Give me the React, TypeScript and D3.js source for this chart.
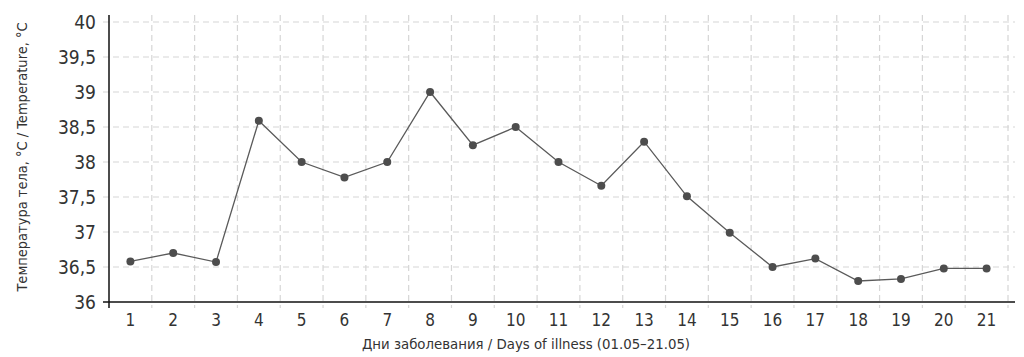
import React from "react";
import * as d3 from "d3";

const days: string[] = Array.from({ length: 21 }, (_, i) => String(i + 1));
const temps: number[] = [
  36.58, 36.7, 36.57, 38.59, 38.0, 37.78, 38.0, 39.0, 38.24, 38.5, 38.0,
  37.66, 38.29, 37.51, 36.99, 36.5, 36.62, 36.3, 36.33, 36.48, 36.48,
];
const yTicks: number[] = [36, 36.5, 37, 37.5, 38, 38.5, 39, 39.5, 40];
const yTickLabels: string[] = ["36", "36,5", "37", "37,5", "38", "38,5", "39", "39,5", "40"];
const xTitle = "Дни заболевания / Days of illness (01.05–21.05)";
const yTitle = "Температура тела, °C / Temperature, °C";

const W = 1024;
const H = 357;
const left = 109;
const right = 1008;
const top = 22;
const bottom = 302;
const FONT = "'Liberation Sans Narrow', 'DejaVu Sans Condensed', 'Roboto Condensed', sans-serif";

export default function App() {
  const x = d3.scaleBand<string>().domain(days).range([left, right]).paddingInner(0).paddingOuter(0);
  const y = d3.scaleLinear().domain([36, 40]).range([bottom, top]);
  const cx = (d: string) => (x(d) as number) + x.bandwidth() / 2;
  const line = d3
    .line<number>()
    .x((_, i) => cx(days[i]))
    .y((v) => y(v));
  const grid = "#d6d6d6";
  return (
    <svg
      width={W}
      height={H}
      style={{ position: "absolute", left: 0, top: 0, display: "block", background: "#fff" }}
      fontFamily={FONT}
    >
      {yTicks.slice(1).map((t) => (
        <line key={"h" + t} x1={left - 6} x2={1015} y1={y(t)} y2={y(t)} stroke={grid} strokeWidth={1.2} strokeDasharray="6,4" />
      ))}
      {days.map((d) => (
        <line
          key={"v" + d}
          x1={(x(d) as number) + x.bandwidth()}
          x2={(x(d) as number) + x.bandwidth()}
          y1={15}
          y2={bottom + 6}
          stroke={grid}
          strokeWidth={1.2}
          strokeDasharray="6,4"
        />
      ))}
      <line x1={left} x2={left} y1={15} y2={bottom + 6} stroke="#111" strokeWidth={1.5} />
      <line x1={left - 6} x2={1015} y1={bottom} y2={bottom} stroke="#111" strokeWidth={1.5} />
      {yTicks.map((t, i) => (
        <text key={"yl" + t} x={96} y={y(t)} dy="0.36em" textAnchor="end" fontSize={19} fill="#333">
          {yTickLabels[i]}
        </text>
      ))}
      {days.map((d) => (
        <text key={"xl" + d} x={cx(d)} y={326} textAnchor="middle" fontSize={17} fill="#333">
          {d}
        </text>
      ))}
      <text x={526} y={349} textAnchor="middle" fontSize={14.8} fill="#333">
        {xTitle}
      </text>
      <text
        transform={`translate(27, 157) rotate(-90)`}
        textAnchor="middle"
        fontSize={14.5}
        fill="#333"
      >
        {yTitle}
      </text>
      <path d={line(temps) || ""} fill="none" stroke="#5a5a5a" strokeWidth={1.3} />
      {temps.map((v, i) => (
        <circle key={"p" + i} cx={cx(days[i])} cy={y(v)} r={4} fill="#4d4d4d" />
      ))}
    </svg>
  );
}
